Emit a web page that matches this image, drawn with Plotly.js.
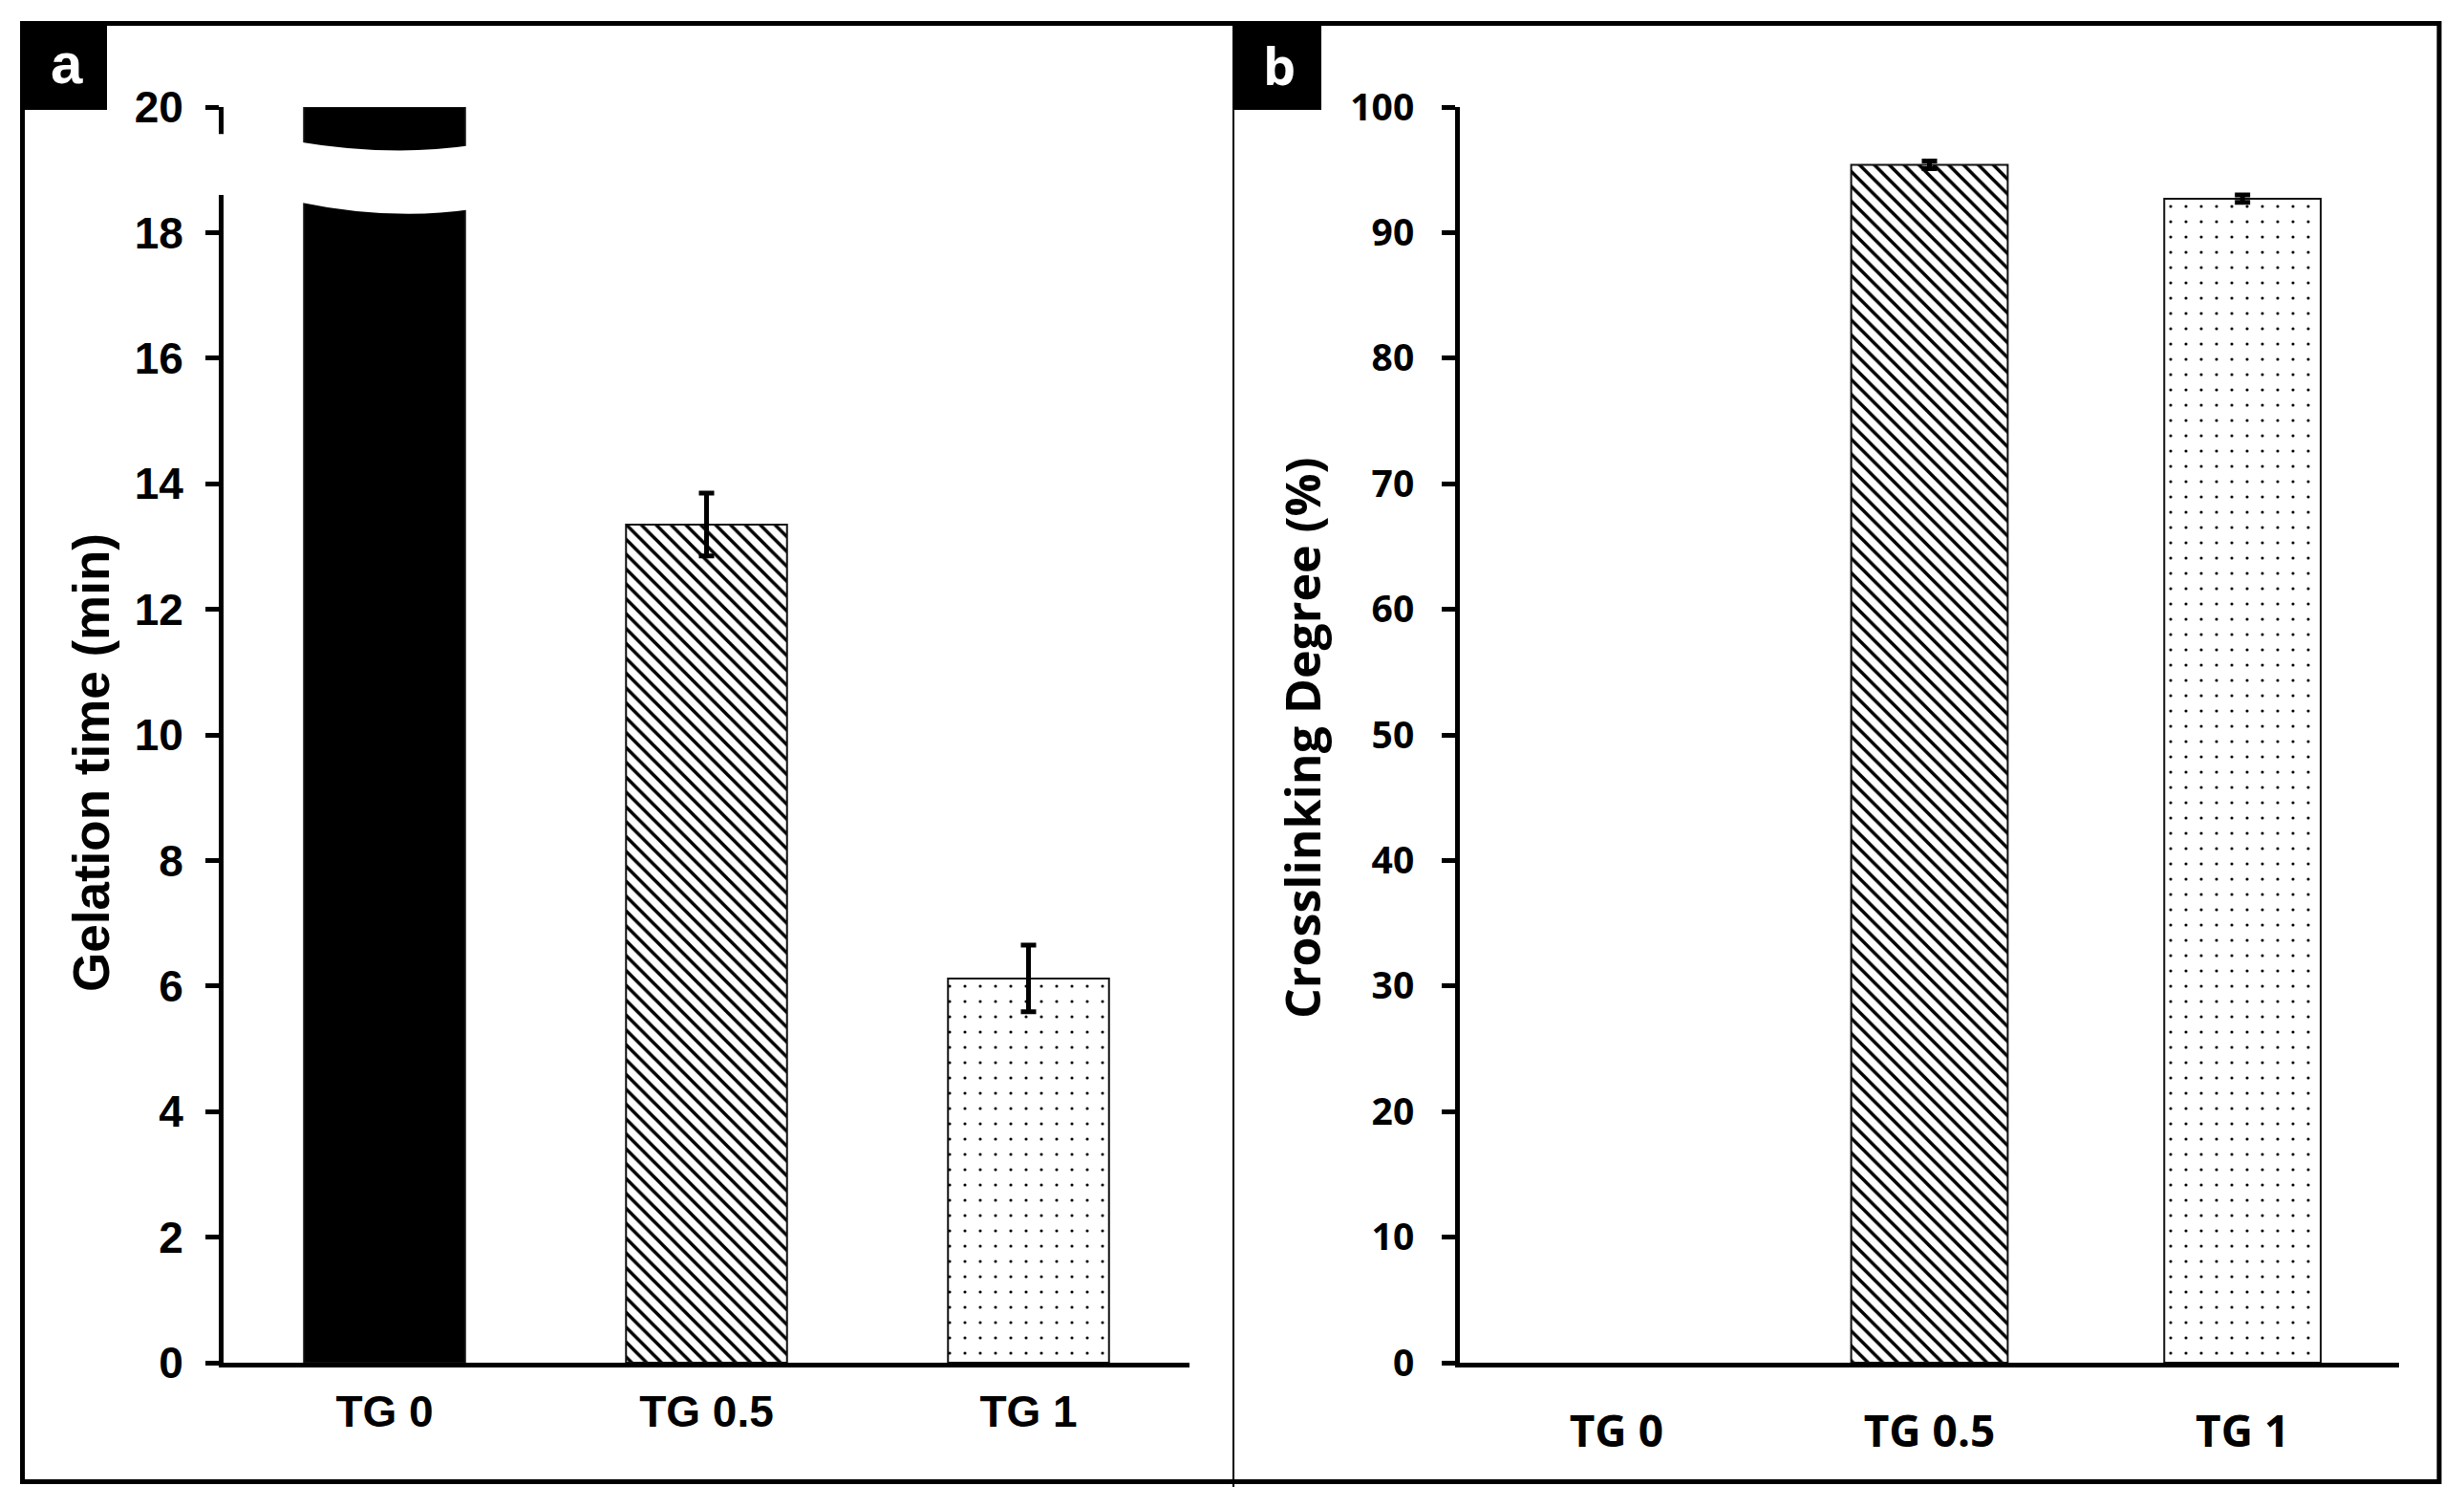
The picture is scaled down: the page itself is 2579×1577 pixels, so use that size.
<!DOCTYPE html>
<html>
<head>
<meta charset="utf-8">
<script src="https://cdn.plot.ly/plotly-3.0.1.min.js"></script>
<style>html,body{margin:0;padding:0;background:#fff;}#chart{width:2579px;height:1577px;}</style>
</head>
<body>
<div id="chart"></div>
<script>
// ---- data ----
const categories = ['TG 0', 'TG 0.5', 'TG 1'];
// panel a: gelation time (min); TG 0 exceeds the axis (broken bar at 20)
const gelationTime = [20, 13.35, 6.12];
const gelationErr = [null, 0.5, 0.53];
// panel b: crosslinking degree (%); TG 0 has no value
const crosslinking = [null, 95.4, 92.7];
const crosslinkingErr = [null, 0.3, 0.3];
const gelTicks = [0, 2, 4, 6, 8, 10, 12, 14, 16, 18, 20];
const crossTicks = [0, 10, 20, 30, 40, 50, 60, 70, 80, 90, 100];

const W = 2579, H = 1577;
const px = v => v / W;
const py = v => 1 - v / H;

const arialB = {family: 'Liberation Sans, Arial, sans-serif', size: 46, color: '#000', weight: 'bold'};
const openB = {family: 'Open Sans, Noto Sans, sans-serif', size: 46, color: '#000', weight: 'bold'};

// per-category bar styles
const barStyles = [
  {color: '#000', pattern: {shape: ''}},
  {color: '#fff', pattern: {shape: '\\', fgcolor: '#000', bgcolor: '#fff', size: 11, solidity: 0.32, fillmode: 'replace'}},
  {color: '#fff', pattern: {shape: '.', fgcolor: '#000', bgcolor: '#fff', size: 16, solidity: 0.03, fillmode: 'replace'}}
];

function panelTraces(values, errors, xa, ya) {
  return categories.map((c, i) => ({
    type: 'bar', x: [c], y: [values[i]], xaxis: xa, yaxis: ya,
    width: 0.5,
    marker: {color: barStyles[i].color, line: {color: '#111', width: 2}, pattern: barStyles[i].pattern},
    error_y: {type: 'data', array: [errors[i]], visible: errors[i] !== null, color: '#000', thickness: 5, width: 8},
    hoverinfo: 'x+y', showlegend: false
  }));
}

const traces = panelTraces(gelationTime, gelationErr, 'x', 'y')
  .concat(panelTraces(crosslinking, crosslinkingErr, 'x2', 'y2'));

const yDomain = [py(1426), py(112)];

const layout = {
  width: W, height: H,
  margin: {l: 0, r: 0, t: 0, b: 0},
  paper_bgcolor: '#fff', plot_bgcolor: '#fff',
  showlegend: false,
  barmode: 'overlay',
  xaxis: {
    domain: [px(234), px(1245)], range: [-0.5, 2.5], type: 'category', categoryarray: categories, categoryorder: 'array',
    showline: true, linecolor: '#000', linewidth: 5, ticks: '', showgrid: false, zeroline: false,
    tickfont: arialB, ticklabelstandoff: 7, automargin: false, fixedrange: true
  },
  yaxis: {
    domain: yDomain, range: [0, 20], tickvals: gelTicks, ticktext: gelTicks.map(String),
    showline: true, linecolor: '#000', linewidth: 5, ticks: 'outside', ticklen: 14, tickwidth: 5, tickcolor: '#000',
    showgrid: false, zeroline: false, tickfont: arialB, ticklabelstandoff: 14, automargin: false, fixedrange: true
  },
  xaxis2: {
    domain: [px(1528), px(2511)], range: [-0.5, 2.5], type: 'category', categoryarray: categories, categoryorder: 'array',
    anchor: 'y2',
    showline: true, linecolor: '#000', linewidth: 5, ticks: '', showgrid: false, zeroline: false,
    tickfont: openB, ticklabelstandoff: 28, automargin: false, fixedrange: true
  },
  yaxis2: {
    domain: yDomain, range: [0, 100], anchor: 'x2', tickvals: crossTicks, ticktext: crossTicks.map(String),
    showline: true, linecolor: '#000', linewidth: 5, ticks: 'outside', ticklen: 14, tickwidth: 5, tickcolor: '#000',
    showgrid: false, zeroline: false, tickfont: Object.assign({}, openB, {size: 39}), ticklabelstandoff: 21,
    automargin: false, fixedrange: true
  },
  shapes: [
    // outer frame and divider
    {type: 'rect', xref: 'paper', yref: 'paper', x0: px(23.5), x1: px(2553), y0: py(1550.5), y1: py(24.5),
     line: {color: '#000', width: 5}, fillcolor: 'rgba(0,0,0,0)', layer: 'above'},
    {type: 'line', xref: 'paper', yref: 'paper', x0: px(1291), x1: px(1291), y0: py(1556), y1: py(24.5),
     line: {color: '#000', width: 2}, layer: 'above'},
    // panel letter boxes
    {type: 'rect', xref: 'paper', yref: 'paper', x0: px(23), x1: px(112), y0: py(115), y1: py(25),
     line: {width: 0}, fillcolor: '#000', layer: 'above'},
    {type: 'rect', xref: 'paper', yref: 'paper', x0: px(1290), x1: px(1383), y0: py(115), y1: py(25),
     line: {width: 0}, fillcolor: '#000', layer: 'above'},
    // axis break on the y axis of panel a
    {type: 'rect', xref: 'paper', yref: 'y', x0: px(220), x1: px(242), y0: 18.6, y1: 19.57,
     line: {width: 0}, fillcolor: '#fff', layer: 'above'},
    // wavy break across the TG 0 bar
    {type: 'path', xref: 'x', yref: 'y',
     path: 'M-0.27,19.45 Q0.02,19.2 0.27,19.39 L0.27,18.37 Q0.02,18.18 -0.27,18.49 Z',
     line: {width: 0}, fillcolor: '#fff', layer: 'above'}
  ],
  annotations: [
    {text: 'a', xref: 'paper', yref: 'paper', x: px(70), y: py(66), xanchor: 'center', yanchor: 'middle',
     showarrow: false, font: {family: 'Liberation Sans, Arial, sans-serif', size: 60, color: '#fff', weight: 'bold'}},
    {text: 'b', xref: 'paper', yref: 'paper', x: px(1339), y: py(67.5), xanchor: 'center', yanchor: 'middle',
     showarrow: false, font: {family: 'Open Sans, Noto Sans, sans-serif', size: 54, color: '#fff', weight: 'bold'}},
    {text: 'Gelation time (min)', xref: 'paper', yref: 'paper', x: px(127), y: py(798.5), xanchor: 'right', yanchor: 'middle',
     textangle: -90, showarrow: false,
     font: {family: 'Liberation Sans, Arial, sans-serif', size: 53, color: '#000', weight: 'bold'}},
    {text: 'Crosslinking Degree (%)', xref: 'paper', yref: 'paper', x: px(1399), y: py(773), xanchor: 'right', yanchor: 'middle',
     textangle: -90, showarrow: false,
     font: {family: 'Open Sans, Noto Sans, sans-serif', size: 50, color: '#000', weight: 'bold'}}
  ]
};

Plotly.newPlot('chart', traces, layout, {staticPlot: true, displayModeBar: false});
</script>
</body>
</html>
